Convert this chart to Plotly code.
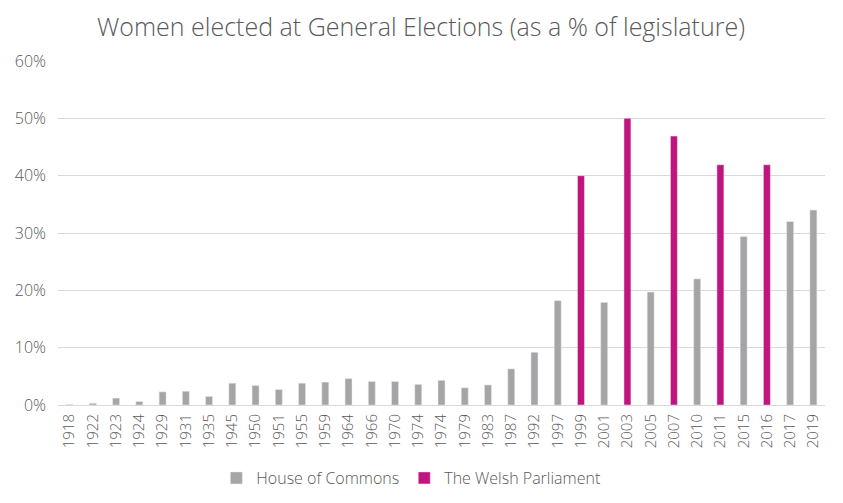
import plotly.graph_objects as go

years = ["1918", "1922", "1923", "1924", "1929", "1931", "1935", "1945", "1950", "1951",
         "1955", "1959", "1964", "1966", "1970", "1974", "1974", "1979", "1983", "1987",
         "1992", "1997", "1999", "2001", "2003", "2005", "2007", "2010", "2011", "2015",
         "2016", "2017", "2019"]

commons = [0.1, 0.3, 1.2, 0.6, 2.3, 2.4, 1.5, 3.8, 3.4, 2.7,
           3.8, 4.0, 4.6, 4.1, 4.1, 3.6, 4.3, 3.0, 3.5, 6.3,
           9.2, 18.2, None, 17.9, None, 19.7, None, 22.0, None, 29.4,
           None, 32.0, 34.0]

welsh = [None, None, None, None, None, None, None, None, None, None,
         None, None, None, None, None, None, None, None, None, None,
         None, None, 40.0, None, 50.0, None, 46.9, None, 41.9, None,
         41.9, None, None]

xs = list(range(len(years)))
grey = "#a5a5a5"
magenta = "#c0157f"
text_col = "#595959"
font_family = "'Open Sans', Lato, sans-serif"

# page body has an 8px margin, so the figure is drawn 8px smaller
W, H = 835, 495

fig = go.Figure()
fig.add_trace(go.Bar(x=xs, y=commons, name="House of Commons", marker_color=grey,
                     width=0.3, hovertemplate="%{y}%<extra></extra>"))
fig.add_trace(go.Bar(x=xs, y=welsh, name="The Welsh Parliament", marker_color=magenta,
                     width=0.3, hovertemplate="%{y}%<extra></extra>"))

fig.update_layout(
    width=W, height=H,
    barmode="overlay",
    paper_bgcolor="white", plot_bgcolor="white",
    margin=dict(l=50, r=18, t=53, b=98, autoexpand=False),
    title=dict(text="Women elected at General Elections (as a % of legislature)",
               x=(421 - 8) / W, xanchor="center", y=1 - 19 / H, yanchor="middle",
               font=dict(family=font_family, size=25, color=text_col, weight=300)),
    font=dict(family=font_family, color=text_col),
    xaxis=dict(tickmode="array", tickvals=xs, ticktext=years, tickangle=-90,
               range=[-0.5, len(years) - 0.5], showgrid=False, showline=True,
               linecolor="#d9d9d9", linewidth=1, ticks="", automargin=False,
               ticklabelstandoff=2,
               tickfont=dict(size=15, color=text_col, family=font_family, weight=300)),
    yaxis=dict(range=[0, 60], dtick=10, ticksuffix="%", showgrid=True,
               gridcolor="#d9d9d9", gridwidth=1, zeroline=False, showline=False,
               ticks="", automargin=False, ticklabelstandoff=11,
               tickfont=dict(size=16, color=text_col, family=font_family, weight=300)),
    legend=dict(orientation="h", x=0.46, xanchor="center", y=-73 / 344, yanchor="middle",
                font=dict(size=16, color=text_col, family=font_family, weight=300),
                itemwidth=30, traceorder="normal"),
    showlegend=True,
)

fig.write_html("out.html")
